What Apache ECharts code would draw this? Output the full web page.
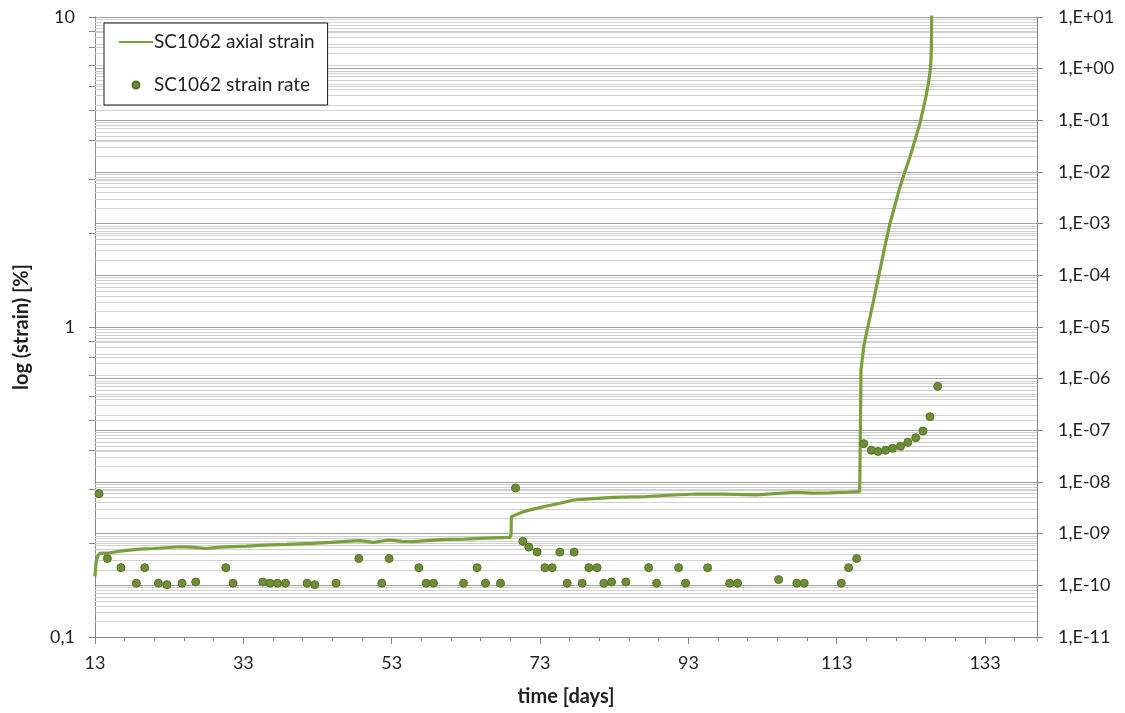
<!DOCTYPE html>
<html>
<head>
<meta charset="utf-8">
<script src="https://cdn.jsdelivr.net/npm/echarts@6/dist/echarts.min.js"></script>
<style>
html,body{margin:0;padding:0;background:#fff;}
#c{width:1125px;height:713px;}
</style>
</head>
<body>
<div id="c"></div>
<script>
// ---------- data ----------
const strainDays = [13.0, 13.15, 13.4, 13.64, 14.99, 16.98, 19.03, 20.96, 24.45, 25.94, 28.03, 29.92, 33.41, 35.89, 38.88, 42.36, 44.85, 46.84, 48.74, 50.53, 52.72, 54.31, 55.90, 58.29, 60.38, 62.77, 65.76, 68.94, 69.09, 69.14, 70.73, 72.23, 73.92, 75.71, 77.50, 79.69, 82.88, 87.36, 89.65, 94.13, 97.61, 102.19, 104.58, 107.56, 109.55, 112.04, 114.53, 116.05, 116.10, 116.20, 116.27, 116.67, 117.19, 117.78, 119.10, 119.60, 120.17, 120.85, 121.52, 122.19, 122.86, 123.54, 124.21, 124.66, 125.11, 125.40, 125.66, 125.76, 125.80, 125.82];
const strainValues = [0.157, 0.175, 0.183, 0.186, 0.187, 0.190, 0.192, 0.193, 0.1955, 0.195, 0.193, 0.195, 0.1965, 0.198, 0.199, 0.2005, 0.202, 0.2035, 0.2045, 0.202, 0.2055, 0.2035, 0.203, 0.205, 0.2065, 0.207, 0.2085, 0.2097, 0.214, 0.2445, 0.2536, 0.259, 0.2646, 0.270, 0.2767, 0.279, 0.2823, 0.2836, 0.286, 0.2893, 0.289, 0.2874, 0.290, 0.2929, 0.291, 0.2915, 0.293, 0.2943, 0.300, 0.50, 0.727, 0.875, 1.00, 1.16, 1.64, 1.87, 2.15, 2.47, 2.83, 3.17, 3.53, 4.00, 4.53, 5.05, 5.66, 6.20, 6.90, 8.00, 10.0, 14.0];

const rateDays = [13.54, 14.67, 16.50, 18.57, 19.70, 21.55, 22.71, 24.74, 26.58, 30.63, 31.61, 35.62, 36.60, 37.60, 38.68, 41.59, 42.63, 45.50, 48.57, 51.66, 52.65, 56.66, 57.64, 58.64, 62.68, 64.51, 65.65, 67.67, 69.70, 70.68, 71.49, 72.61, 73.65, 74.64, 75.67, 76.66, 77.60, 78.68, 79.58, 80.69, 81.60, 82.64, 84.57, 87.64, 88.71, 91.68, 92.62, 95.59, 98.56, 99.63, 105.17, 107.63, 108.62, 113.61, 114.60, 115.69, 116.64, 117.66, 118.56, 119.58, 120.52, 121.60, 122.58, 123.65, 124.63, 125.57, 126.61];
const rateValues = [5.95e-9, 3.3e-10, 2.2e-10, 1.1e-10, 2.2e-10, 1.1e-10, 1.03e-10, 1.1e-10, 1.16e-10, 2.2e-10, 1.1e-10, 1.16e-10, 1.1e-10, 1.1e-10, 1.1e-10, 1.1e-10, 1.03e-10, 1.1e-10, 3.3e-10, 1.1e-10, 3.3e-10, 2.2e-10, 1.1e-10, 1.1e-10, 1.1e-10, 2.2e-10, 1.1e-10, 1.1e-10, 7.67e-9, 7.1e-10, 5.5e-10, 4.43e-10, 2.2e-10, 2.2e-10, 4.4e-10, 1.1e-10, 4.4e-10, 1.1e-10, 2.2e-10, 2.2e-10, 1.1e-10, 1.16e-10, 1.16e-10, 2.2e-10, 1.1e-10, 2.2e-10, 1.1e-10, 2.2e-10, 1.1e-10, 1.1e-10, 1.29e-10, 1.1e-10, 1.1e-10, 1.1e-10, 2.2e-10, 3.3e-10, 5.52e-8, 4.1e-8, 3.9e-8, 4.1e-8, 4.48e-8, 4.9e-8, 5.86e-8, 7.2e-8, 9.7e-8, 1.84e-7, 7.1e-7];

// ---------- tick labels ----------
const xTickLabels = ['13', '33', '53', '73', '93', '113', '133'];
const leftTickLabels = ['0,1', '1', '10'];            // decades 1e-1 .. 1e1
const rightTickLabels = ['1,E-11', '1,E-10', '1,E-09', '1,E-08', '1,E-07', '1,E-06', '1,E-05', '1,E-04', '1,E-03', '1,E-02', '1,E-01', '1,E+00', '1,E+01'];
const seriesNames = ['SC1062 axial strain', 'SC1062 strain rate'];

// ---------- gridline / tick helpers (axis decoration, not data) ----------
function logSteps(fromExp, toExp, withDecades) {
  const out = [];
  for (let n = fromExp; n < toExp; n++) {
    for (let k = withDecades ? 1 : 2; k <= 9; k++) out.push(k * Math.pow(10, n));
  }
  if (withDecades) out.push(Math.pow(10, toExp));
  return out;
}
const leftMinor = logSteps(-1, 1, false);
const leftTicksAll = logSteps(-1, 1, true);
const rightMinor = logSteps(-11, 1, false);

const FONT = 'Lato, "Liberation Sans", sans-serif';
const TXT = '#1f1f1f';
const AX = '#868686';
const LINE_COLOR = '#78A13B';
const DOT_COLOR = '#6E8E35';
const MINOR_GRID = '#d0d0d0';
const MAJOR_GRID = '#a0a0a0';

function minorMarkLine(vals, color) {
  return {
    silent: true,
    precision: 20,
    symbol: ['none', 'none'],
    label: { show: false },
    emphasis: { disabled: true },
    animation: false,
    z: 1,
    lineStyle: { color: color, width: 1, type: 'solid' },
    data: vals.map(v => ({ yAxis: v }))
  };
}

const chart = echarts.init(document.getElementById('c'));
chart.setOption({
  animation: false,
  backgroundColor: '#fff',
  grid: { left: 95, top: 17, width: 942, height: 620, containLabel: false },
  legend: {
    left: 104, top: 23, orient: 'vertical',
    itemWidth: 34, itemHeight: 7, itemGap: 23,
    padding: [9, 13, 10, 14],
    borderColor: '#1a1a1a', borderWidth: 1, backgroundColor: '#fff',
    textStyle: { fontFamily: FONT, fontSize: 19, color: TXT, lineHeight: 20, padding: [0, 0, 0, -4] },
    data: [
      { name: seriesNames[0], itemStyle: { opacity: 0, color: 'rgba(0,0,0,0)', borderColor: 'rgba(0,0,0,0)', borderWidth: 0 } },
      { name: seriesNames[1] }
    ]
  },
  xAxis: [{
    type: 'value', min: 13, max: 140, interval: 20, position: 'bottom',
    axisLine: { show: true, lineStyle: { color: AX, width: 1 } },
    axisTick: { show: true, length: 7, lineStyle: { color: AX } },
    axisLabel: {
      showMaxLabel: false, margin: 17, fontFamily: FONT, fontSize: 18, color: TXT,
      formatter: v => { const i = Math.round((v - 13) / 20); return (Math.abs(v - 13 - 20 * i) < 1e-6 && xTickLabels[i]) ? xTickLabels[i] : ''; }
    },
    splitLine: { show: false },
    name: 'time [days]', nameLocation: 'middle', nameGap: 50,
    nameTextStyle: { fontFamily: FONT, fontSize: 20, fontWeight: 'bold', color: TXT }
  }, {
    type: 'value', min: 13, max: 140, interval: 4, position: 'bottom',
    axisLine: { show: false },
    axisTick: { show: true, length: 4, lineStyle: { color: AX } },
    axisLabel: { show: false },
    splitLine: { show: false }
  }],
  yAxis: [{
    type: 'log', logBase: 10, min: 0.1, max: 10, interval: 1, position: 'left',
    axisLine: { show: true, lineStyle: { color: AX, width: 1 } },
    axisTick: { show: true, length: 6, lineStyle: { color: AX }, customValues: leftTicksAll },
    axisLabel: {
      margin: 20, fontFamily: FONT, fontSize: 18, color: TXT,
      formatter: v => leftTickLabels[Math.round(Math.log10(v)) + 1] || ''
    },
    splitLine: { show: false },
    name: 'log (strain) [%]', nameLocation: 'middle', nameGap: 63,
    nameTextStyle: { fontFamily: FONT, fontSize: 20, fontWeight: 'bold', color: TXT }
  }, {
    type: 'log', logBase: 10, min: 1e-11, max: 10, interval: 1, position: 'right',
    axisLine: { show: true, lineStyle: { color: AX, width: 1 } },
    axisTick: { show: true, length: 6, lineStyle: { color: AX } },
    axisLabel: {
      margin: 21, fontFamily: FONT, fontSize: 18, color: TXT,
      formatter: v => rightTickLabels[Math.round(Math.log10(v)) + 11] || ''
    },
    splitLine: { show: true, lineStyle: { color: MAJOR_GRID, width: 1 } }
  }],
  series: [{
    name: seriesNames[0], type: 'line', xAxisIndex: 0, yAxisIndex: 0,
    data: strainDays.map((d, i) => [d, strainValues[i]]),
    symbol: 'none', showSymbol: false, clip: true, z: 3,
    lineStyle: { color: LINE_COLOR, width: 3.2 },
    itemStyle: { color: LINE_COLOR },
    markLine: minorMarkLine(leftMinor, MINOR_GRID)
  }, {
    name: seriesNames[1], type: 'scatter', xAxisIndex: 0, yAxisIndex: 1,
    data: rateDays.map((d, i) => [d, rateValues[i]]),
    symbol: 'circle', symbolSize: 8, z: 4,
    itemStyle: { color: DOT_COLOR, borderColor: '#56702A', borderWidth: 1, opacity: 1 },
    markLine: minorMarkLine(rightMinor, MINOR_GRID)
  }]
});
</script>
</body>
</html>
